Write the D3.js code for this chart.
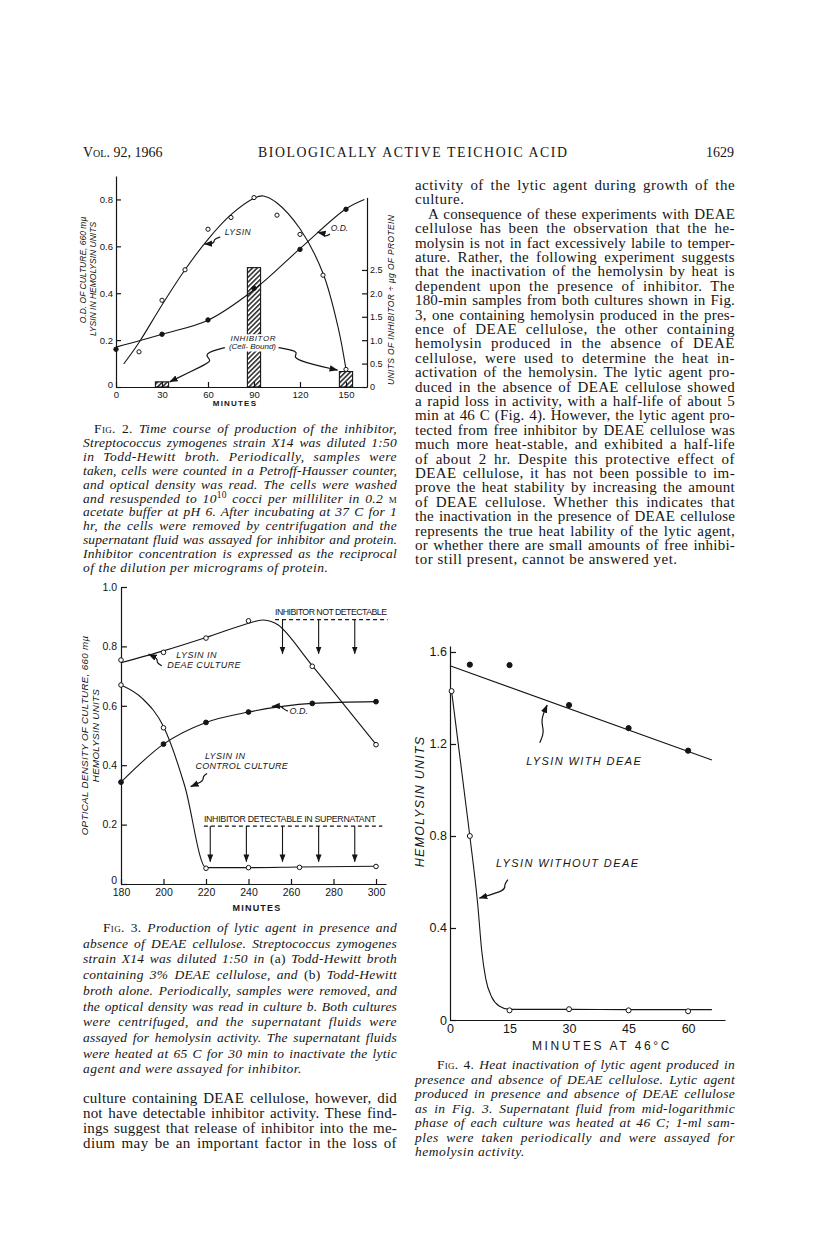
<!DOCTYPE html>
<html lang="en">
<head>
<meta charset="utf-8">
<title>Biologically active teichoic acid</title>
<script src="https://cdn.jsdelivr.net/npm/d3@7"></script>
<style>
  body { margin: 0; background: #fff; }
</style>
</head>
<body>
<script>
// ---------- data ----------

// Fig. 2 : time course (minutes)
const fig2Ticks = [0, 30, 60, 90, 120, 150];
const fig2LeftTicks = [0, 0.2, 0.4, 0.6, 0.8];
const fig2RightTicks = [0, 0.5, 1.0, 1.5, 2.0, 2.5];
const fig2LysinMin = [15, 30, 45, 60, 75, 90, 105, 120, 135, 150];
const fig2LysinVal = [0.15, 0.37, 0.50, 0.673, 0.723, 0.808, 0.733, 0.651, 0.477, 0.075];
const fig2LysinCurveMin = [5, 15, 30, 45, 60, 75, 90, 96, 105, 120, 135, 145, 150];
const fig2LysinCurveVal = [0.098, 0.19, 0.35, 0.50, 0.63, 0.735, 0.805, 0.815, 0.785, 0.675, 0.485, 0.25, 0.075];
const fig2OdMin = [0, 30, 60, 90, 120, 150];
const fig2OdVal = [0.161, 0.225, 0.286, 0.421, 0.587, 0.758];
const fig2OdCurveMin = [0, 30, 60, 90, 120, 150, 162];
const fig2OdCurveVal = [0.17, 0.225, 0.285, 0.415, 0.59, 0.76, 0.80];
const fig2InhibMin = [30, 90, 150];
const fig2InhibVal = [0.11, 2.55, 0.33];   // units of inhibitor / ug protein

// Fig. 3 : lytic agent with / without DEAE
const fig3Ticks = [180, 200, 220, 240, 260, 280, 300];
const fig3YTicks = [0, 0.2, 0.4, 0.6, 0.8, 1.0];
const fig3DeaeMin = [180, 200, 220, 240, 270, 300];
const fig3DeaeVal = [0.754, 0.78, 0.828, 0.886, 0.733, 0.469];
const fig3DeaeCurveMin = [180, 200, 220, 240, 247, 254, 270, 300];
const fig3DeaeCurveVal = [0.745, 0.785, 0.83, 0.878, 0.889, 0.872, 0.735, 0.47];
const fig3OdMin = [180, 200, 220, 240, 270, 300];
const fig3OdVal = [0.343, 0.471, 0.544, 0.579, 0.608, 0.614];
const fig3CtrlMin = [180, 200, 220, 240, 264, 300];
const fig3CtrlVal = [0.67, 0.526, 0.053, 0.055, 0.056, 0.059];
const fig3CtrlCurveMin = [180, 190, 200, 210, 220, 240, 264, 300];
const fig3CtrlCurveVal = [0.67, 0.625, 0.53, 0.33, 0.055, 0.055, 0.057, 0.06];
const fig3NotDetectArrows = [256, 273, 290];
const fig3DetectArrows = [222, 239, 256, 273, 290];

// Fig. 4 : heat inactivation at 46 C
const fig4Ticks = [0, 15, 30, 45, 60];
const fig4YTicks = [0, 0.4, 0.8, 1.2, 1.6];
const fig4DeaeMin = [5, 15, 30, 45, 60];
const fig4DeaeVal = [1.545, 1.543, 1.369, 1.269, 1.171];
const fig4DeaeLineMin = [0, 66];
const fig4DeaeLineVal = [1.54, 1.13];
const fig4NoDeaeMin = [0.4, 5, 15, 30, 45, 60];
const fig4NoDeaeVal = [1.43, 0.80, 0.042, 0.047, 0.042, 0.038];
const fig4NoDeaeCurveMin = [0.4, 5, 7, 8, 9, 10.5, 12.5, 15, 30, 45, 60, 66];
const fig4NoDeaeCurveVal = [1.43, 0.80, 0.50, 0.30, 0.18, 0.10, 0.06, 0.046, 0.046, 0.045, 0.045, 0.045];

// ---------- page text ----------
const rightColumn = [
  "activity of the lytic agent during growth of the",
  "culture.",
  "A consequence of these experiments with DEAE",
  "cellulose has been the observation that the he-",
  "molysin is not in fact excessively labile to temper-",
  "ature. Rather, the following experiment suggests",
  "that the inactivation of the hemolysin by heat is",
  "dependent upon the presence of inhibitor. The",
  "180-min samples from both cultures shown in Fig.",
  "3, one containing hemolysin produced in the pres-",
  "ence of DEAE cellulose, the other containing",
  "hemolysin produced in the absence of DEAE",
  "cellulose, were used to determine the heat in-",
  "activation of the hemolysin. The lytic agent pro-",
  "duced in the absence of DEAE cellulose showed",
  "a rapid loss in activity, with a half-life of about 5",
  "min at 46 C (Fig. 4). However, the lytic agent pro-",
  "tected from free inhibitor by DEAE cellulose was",
  "much more heat-stable, and exhibited a half-life",
  "of about 2 hr. Despite this protective effect of",
  "DEAE cellulose, it has not been possible to im-",
  "prove the heat stability by increasing the amount",
  "of DEAE cellulose. Whether this indicates that",
  "the inactivation in the presence of DEAE cellulose",
  "represents the true heat lability of the lytic agent,",
  "or whether there are small amounts of free inhibi-",
  "tor still present, cannot be answered yet."
];
const leftBody = [
  "culture containing DEAE cellulose, however, did",
  "not have detectable inhibitor activity. These find-",
  "ings suggest that release of inhibitor into the me-",
  "dium may be an important factor in the loss of"
];
const fig2Caption = [
  "{sc:Fig. 2.} Time course of production of the inhibitor,",
  "Streptococcus zymogenes strain X14 was diluted 1:50",
  "in Todd-Hewitt broth. Periodically, samples were",
  "taken, cells were counted in a Petroff-Hausser counter,",
  "and optical density was read. The cells were washed",
  "and resuspended to 10{sup:10} cocci per milliliter in 0.2 {sc:m}",
  "acetate buffer at pH 6. After incubating at 37 C for 1",
  "hr, the cells were removed by centrifugation and the",
  "supernatant fluid was assayed for inhibitor and protein.",
  "Inhibitor concentration is expressed as the reciprocal",
  "of the dilution per micrograms of protein."
];
const fig3Caption = [
  "{sc:Fig. 3.} Production of lytic agent in presence and",
  "absence of DEAE cellulose. Streptococcus zymogenes",
  "strain X14 was diluted 1:50 in {rm:(a)} Todd-Hewitt broth",
  "containing 3% DEAE cellulose, and {rm:(b)} Todd-Hewitt",
  "broth alone. Periodically, samples were removed, and",
  "the optical density was read in culture b. Both cultures",
  "were centrifuged, and the supernatant fluids were",
  "assayed for hemolysin activity. The supernatant fluids",
  "were heated at 65 C for 30 min to inactivate the lytic",
  "agent and were assayed for inhibitor."
];
const fig4Caption = [
  "{sc:Fig. 4.} Heat inactivation of lytic agent produced in",
  "presence and absence of DEAE cellulose. Lytic agent",
  "produced in presence and absence of DEAE cellulose",
  "as in Fig. 3. Supernatant fluid from mid-logarithmic",
  "phase of each culture was heated at 46 C; 1-ml sam-",
  "ples were taken periodically and were assayed for",
  "hemolysin activity."
];

// ---------- setup ----------
const serif = '"Liberation Serif", "Times New Roman", serif';
const sans = '"Liberation Sans", Arial, sans-serif';
const ink = "#151515";

const svg = d3.select("body").append("svg")
  .attr("width", 816).attr("height", 1238);
svg.append("rect").attr("width", 816).attr("height", 1238).attr("fill", "#fff");

const defs = svg.append("defs");
const hatch = defs.append("pattern").attr("id", "hatch")
  .attr("patternUnits", "userSpaceOnUse")
  .attr("width", 3.4).attr("height", 3.4)
  .attr("patternTransform", "rotate(45)");
hatch.append("rect").attr("width", 3.4).attr("height", 3.4).attr("fill", "#fff");
hatch.append("line").attr("x1", 0.8).attr("y1", 0).attr("x2", 0.8).attr("y2", 3.4)
  .attr("stroke", ink).attr("stroke-width", 1.4);

defs.append("marker").attr("id", "arrow")
  .attr("viewBox", "0 0 10 10").attr("refX", 9.5).attr("refY", 5)
  .attr("markerWidth", 7).attr("markerHeight", 7).attr("orient", "auto")
  .append("path").attr("d", "M0,1.2 L10,5 L0,8.8 Z").attr("fill", ink);

// ---------- helpers ----------
function addRich(text, str) {
  const re = /\{(sc|sup|rm):([^}]*)\}/g;
  let last = 0, m;
  while ((m = re.exec(str))) {
    if (m.index > last) text.append("tspan").text(str.slice(last, m.index));
    const sp = text.append("tspan").text(m[2]);
    if (m[1] === "sc") sp.attr("font-style", "normal").style("font-variant", "small-caps");
    if (m[1] === "rm") sp.attr("font-style", "normal");
    if (m[1] === "sup") sp.attr("font-size", "0.7em").attr("baseline-shift", "super").attr("font-style", "normal");
    last = re.lastIndex;
  }
  if (last < str.length) text.append("tspan").text(str.slice(last));
}

// justified block: part of the slack goes into letter spacing, the rest into word gaps
function textBlock(lines, o) {
  const g = svg.append("g")
    .attr("font-family", serif).attr("font-size", o.size)
    .attr("font-style", o.italic ? "italic" : "normal").attr("fill", ink);
  lines.forEach((ln, i) => {
    const ind = (o.indents && o.indents[i]) || 0;
    const t = g.append("text").attr("x", o.x + ind).attr("y", o.y + i * o.lh);
    addRich(t, ln);
    const chars = t.text().length;
    const slack = o.width - ind - t.node().getComputedTextLength();
    const ls = Math.max(0, Math.min(0.5, slack * 0.5 / chars));
    t.attr("letter-spacing", ls);
    if (!(o.ends || []).includes(i)) {
      const nat = t.node().getComputedTextLength();
      const gaps = (t.text().match(/ /g) || []).length;
      if (gaps) t.attr("word-spacing", (o.width - ind - nat) / gaps);
    }
  });
}

function styleAxis(g, size) {
  g.attr("font-family", sans).attr("font-size", size);
  g.select(".domain").attr("stroke", ink).attr("stroke-width", 1.2);
  g.selectAll(".tick line").attr("stroke", ink).attr("stroke-width", 1.2);
  g.selectAll(".tick text").attr("fill", ink);
  return g;
}

const fmt1 = d => d === 0 ? "0" : d3.format(".1f")(d);

function curve(xs, ys, sx, sy, c) {
  return d3.line().x(d => sx(d[0])).y(d => sy(d[1])).curve(c || d3.curveMonotoneX)(d3.zip(xs, ys));
}

function drawLine(path, w) {
  svg.append("path").attr("d", path).attr("fill", "none")
    .attr("stroke", ink).attr("stroke-width", w || 1.1);
}

function dots(xs, ys, sx, sy, open, r) {
  svg.append("g").selectAll("circle").data(d3.zip(xs, ys)).join("circle")
    .attr("cx", d => sx(d[0])).attr("cy", d => sy(d[1])).attr("r", r || 2.3)
    .attr("fill", open ? "#fff" : ink).attr("stroke", ink).attr("stroke-width", 1);
}

function squiggle(pts, sx, sy) {
  svg.append("path")
    .attr("d", d3.line().x(d => sx(d[0])).y(d => sy(d[1])).curve(d3.curveBasis)(pts))
    .attr("fill", "none").attr("stroke", ink).attr("stroke-width", 1.2)
    .attr("marker-end", "url(#arrow)");
}

function label(x, y, str, o) {
  o = o || {};
  const t = svg.append("text").attr("x", x).attr("y", y)
    .attr("font-family", o.family || sans).attr("font-size", o.size || 9)
    .attr("font-style", o.italic ? "italic" : "normal")
    .attr("font-weight", o.bold ? "bold" : "normal")
    .attr("text-anchor", o.anchor || "start").attr("fill", ink)
    .attr("letter-spacing", o.ls || 0)
    .text(str);
  if (o.rotate) t.attr("transform", `rotate(-90,${x},${y})`);
  if (o.len) t.attr("textLength", o.len).attr("lengthAdjust", "spacing");
  return t;
}

// ---------- running head ----------
label(83, 157, "Vol. 92, 1966", { family: serif, size: 14 }).style("font-variant", "small-caps");
label(258, 157, "BIOLOGICALLY ACTIVE TEICHOIC ACID", { family: serif, size: 13.8, len: 309 });
label(734, 157, "1629", { family: serif, size: 14, anchor: "end" });

// ---------- Fig. 2 ----------
const x2 = d3.scaleLinear().domain([0, 163.7]).range([116, 367]);
const y2 = d3.scaleLinear().domain([0, 0.9]).range([387, 176]);
const y2r = d3.scaleLinear().domain([0, 4.05]).range([387, 197.4]);

// bars first, so curves sit over them
svg.append("g").selectAll("rect").data(d3.zip(fig2InhibMin, fig2InhibVal)).join("rect")
  .attr("x", d => x2(d[0] - 4.3)).attr("width", d => x2(d[0] + 4.3) - x2(d[0] - 4.3))
  .attr("y", d => y2r(d[1])).attr("height", d => y2r(0) - y2r(d[1]))
  .attr("fill", "url(#hatch)").attr("stroke", ink).attr("stroke-width", 1.1);

styleAxis(svg.append("g").attr("transform", `translate(0,${y2(0)})`)
  .call(d3.axisBottom(x2).tickValues(fig2Ticks).tickSizeInner(-5).tickSizeOuter(0).tickPadding(4)), 9.5);
styleAxis(svg.append("g").attr("transform", `translate(${x2(0)},0)`)
  .call(d3.axisLeft(y2).tickValues(fig2LeftTicks).tickFormat(fmt1).tickSizeInner(-5).tickSizeOuter(0).tickPadding(3)), 9.5)
  .selectAll(".tick text").filter(d => d === 0).attr("dy", "0.1em");
styleAxis(svg.append("g").attr("transform", `translate(${x2.range()[1]},0)`)
  .call(d3.axisRight(y2r).tickValues(fig2RightTicks).tickFormat(fmt1).tickSizeInner(-5).tickSizeOuter(0).tickPadding(3)), 9);

drawLine(curve(fig2LysinCurveMin, fig2LysinCurveVal, x2, y2, d3.curveCatmullRom));
drawLine(curve(fig2OdCurveMin, fig2OdCurveVal, x2, y2, d3.curveCatmullRom));
dots(fig2LysinMin, fig2LysinVal, x2, y2, true, 2.1);
dots(fig2OdMin, fig2OdVal, x2, y2, false, 2.2);

label(235, 406, "MINUTES", { size: 8, ls: 1.2, anchor: "middle", bold: true });
label(86, 270, "O.D. OF CULTURE, 660 m\u00b5", { size: 8.5, italic: true, anchor: "middle", rotate: true });
label(96, 279, "LYSIN IN HEMOLYSIN UNITS", { size: 8.5, italic: true, anchor: "middle", rotate: true });
label(394, 300, "UNITS OF INHIBITOR \u00f7 \u00b5g OF PROTEIN", { size: 8.5, italic: true, anchor: "middle", rotate: true, len: 170 });

label(x2(71), y2(0.648), "LYSIN", { size: 8.5, italic: true, ls: 0.5 });
squiggle([[68, 0.64], [63.5, 0.63], [64.5, 0.612], [57.5, 0.61]], x2, y2);
label(x2(140), y2(0.665), "O.D.", { size: 8.5, italic: true });
squiggle([[139.5, 0.652], [136, 0.64], [135.5, 0.655], [131.5, 0.66]], x2, y2);

const inh1 = label(x2(89.5), y2(0.195), "INHIBITOR", { size: 8, italic: true, anchor: "middle", ls: 0.6 });
const inh2 = label(x2(89), y2(0.16), "(Cell- Bound)", { size: 8, italic: true, anchor: "middle" });
[inh1, inh2].forEach(t => {
  const b = t.node().getBBox();
  svg.insert("rect", () => t.node()).attr("x", b.x - 1).attr("y", b.y).attr("width", b.width + 2)
    .attr("height", b.height).attr("fill", "#fff");
});
squiggle([[71, 0.168], [63, 0.155], [57.5, 0.135], [63, 0.112], [57, 0.092], [35, 0.022]], x2, y2);
squiggle([[106, 0.168], [113, 0.16], [119, 0.148], [115.5, 0.128], [121, 0.108], [144.5, 0.072]], x2, y2);

textBlock(fig2Caption, { x: 83, y: 433, lh: 13.9, width: 314, size: 13.5, italic: true, ends: [10], indents: { 0: 11 } });

// ---------- Fig. 3 ----------
const x3 = d3.scaleLinear().domain([180, 304.7]).range([121, 386]);
const y3 = d3.scaleLinear().domain([0, 1]).range([884, 587]);

styleAxis(svg.append("g").attr("transform", `translate(0,${y3(0)})`)
  .call(d3.axisBottom(x3).tickValues(fig3Ticks).tickSizeInner(-5).tickSizeOuter(0).tickPadding(5)), 10.5);
styleAxis(svg.append("g").attr("transform", `translate(${x3(180)},0)`)
  .call(d3.axisLeft(y3).tickValues(fig3YTicks).tickFormat(fmt1).tickSizeInner(-6).tickSizeOuter(0).tickPadding(4)), 10.5)
  .selectAll(".tick text").filter(d => d === 0).attr("dy", "-0.05em");

drawLine(curve(fig3DeaeCurveMin, fig3DeaeCurveVal, x3, y3, d3.curveCatmullRom));
drawLine(curve(fig3OdMin, fig3OdVal, x3, y3, d3.curveMonotoneX));
drawLine(curve(fig3CtrlCurveMin, fig3CtrlCurveVal, x3, y3, d3.curveMonotoneX));
dots(fig3DeaeMin, fig3DeaeVal, x3, y3, true, 2.3);
dots(fig3CtrlMin, fig3CtrlVal, x3, y3, true, 2.3);
dots(fig3OdMin, fig3OdVal, x3, y3, false, 2.4);

// inhibitor bands
label(x3(252.5), y3(0.905), "INHIBITOR NOT DETECTABLE", { size: 8.8, len: 112 });
svg.append("line").attr("x1", x3(252.5)).attr("x2", x3(305.5)).attr("y1", y3(0.89)).attr("y2", y3(0.89))
  .attr("stroke", ink).attr("stroke-width", 1.1).attr("stroke-dasharray", "4,3");
svg.append("g").selectAll("line").data(fig3NotDetectArrows).join("line")
  .attr("x1", d => x3(d)).attr("x2", d => x3(d)).attr("y1", y3(0.89)).attr("y2", y3(0.775))
  .attr("stroke", ink).attr("stroke-width", 1.1).attr("marker-end", "url(#arrow)");

label(x3(219), y3(0.21), "INHIBITOR DETECTABLE IN SUPERNATANT", { size: 8.8, len: 172 });
svg.append("line").attr("x1", x3(219)).attr("x2", x3(303)).attr("y1", y3(0.195)).attr("y2", y3(0.195))
  .attr("stroke", ink).attr("stroke-width", 1.1).attr("stroke-dasharray", "4,3");
svg.append("g").selectAll("line").data(fig3DetectArrows).join("line")
  .attr("x1", d => x3(d)).attr("x2", d => x3(d)).attr("y1", y3(0.195)).attr("y2", y3(0.075))
  .attr("stroke", ink).attr("stroke-width", 1.1).attr("marker-end", "url(#arrow)");

label(x3(206), y3(0.761), "LYSIN IN", { size: 9, italic: true, ls: 0.5 });
label(x3(201.8), y3(0.727), "DEAE CULTURE", { size: 9, italic: true, ls: 0.4 });
squiggle([[199.2, 0.735], [196.6, 0.745], [197.6, 0.758], [193, 0.774]], x3, y3);
label(x3(259.3), y3(0.572), "O.D.", { size: 9, italic: true });
squiggle([[258.5, 0.582], [256.2, 0.59], [255.6, 0.6], [251, 0.598]], x3, y3);
label(x3(219.5), y3(0.42), "LYSIN IN", { size: 9, italic: true, ls: 0.5 });
label(x3(215), y3(0.386), "CONTROL CULTURE", { size: 9, italic: true, ls: 0.3 });
squiggle([[220.5, 0.372], [218.3, 0.362], [219.3, 0.348], [212.8, 0.328]], x3, y3);

label(257, 911, "MINUTES", { size: 9, ls: 1.2, anchor: "middle", bold: true });
label(88, y3(0.5), "OPTICAL DENSITY OF CULTURE, 660 m\u00b5", { size: 9.8, italic: true, anchor: "middle", rotate: true, ls: 0.3 });
label(99, y3(0.5), "HEMOLYSIN UNITS", { size: 9.8, italic: true, anchor: "middle", rotate: true, ls: 0.3 });

textBlock(fig3Caption, { x: 83, y: 932, lh: 15.7, width: 314, size: 13.5, italic: true, ends: [9], indents: { 0: 20 } });
textBlock(leftBody, { x: 83, y: 1103, lh: 15.0, width: 314, size: 15 });

// ---------- right column ----------
textBlock(rightColumn, { x: 415, y: 190, lh: 14.4, width: 320, size: 15, ends: [1, 26], indents: { 2: 13 } });

// ---------- Fig. 4 ----------
const x4 = d3.scaleLinear().domain([0, 69.3]).range([450, 725]);
const y4 = d3.scaleLinear().domain([0, 1.626]).range([1020, 646]);

styleAxis(svg.append("g").attr("transform", `translate(0,${y4(0)})`)
  .call(d3.axisBottom(x4).tickValues(fig4Ticks).tickSizeInner(0).tickSizeOuter(0).tickPadding(4)), 12.5);
styleAxis(svg.append("g").attr("transform", `translate(${x4(0)},0)`)
  .call(d3.axisLeft(y4).tickValues(fig4YTicks).tickFormat(fmt1).tickSizeInner(-6).tickSizeOuter(0).tickPadding(3)), 12.5);

drawLine(curve(fig4DeaeLineMin, fig4DeaeLineVal, x4, y4, d3.curveLinear));
drawLine(curve(fig4NoDeaeCurveMin, fig4NoDeaeCurveVal, x4, y4, d3.curveMonotoneX));
dots(fig4DeaeMin, fig4DeaeVal, x4, y4, false, 2.6);
dots(fig4NoDeaeMin, fig4NoDeaeVal, x4, y4, true, 2.5);

label(x4(19.2), y4(1.11), "LYSIN  WITH  DEAE", { size: 11, italic: true, ls: 1.4 });
squiggle([[22.6, 1.205], [23.9, 1.255], [22.7, 1.3], [24.5, 1.37]], x4, y4);
label(x4(11.6), y4(0.665), "LYSIN  WITHOUT  DEAE", { size: 11, italic: true, ls: 1.4 });
squiggle([[14.6, 0.61], [13.5, 0.585], [14.3, 0.565], [7.4, 0.53]], x4, y4);

label(602, 1050, "MINUTES AT 46\u00b0C", { size: 12, anchor: "middle", ls: 2.6 });
label(424, y4(0.95), "HEMOLYSIN UNITS", { size: 12.5, italic: true, anchor: "middle", rotate: true, ls: 1.2 });

textBlock(fig4Caption, { x: 415, y: 1069, lh: 14.5, width: 320, size: 13.5, italic: true, ends: [6], indents: { 0: 22 } });
</script>
</body>
</html>
